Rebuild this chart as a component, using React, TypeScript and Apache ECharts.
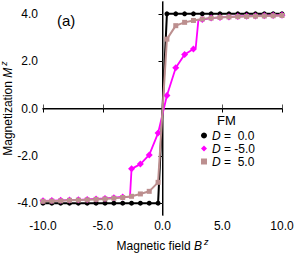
import React, { useEffect, useRef } from "react";
import * as echarts from "echarts";

// Magnetic field sweep (28 points, -10 .. 10)
const fieldB = [
  -10.0, -9.26, -8.52, -7.78, -7.04, -6.3, -5.56, -4.81, -4.07, -3.33, -2.59, -1.85, -1.11, -0.37,
  0.37, 1.11, 1.85, 2.59, 3.33, 4.07, 4.81, 5.56, 6.3, 7.04, 7.78, 8.52, 9.26, 10.0,
];
const magD0 = [
  -4.0, -4.0, -4.0, -4.0, -4.0, -4.0, -4.0, -4.0, -4.0, -4.0, -4.0, -4.0, -4.0, -4.0,
  4.0, 4.0, 4.0, 4.0, 4.0, 4.0, 4.0, 4.0, 4.0, 4.0, 4.0, 4.0, 4.0, 4.0,
];
const magDm5 = [
  -3.9, -3.89, -3.88, -3.87, -3.86, -3.84, -3.82, -3.8, -3.77, -3.74, -2.55, -2.35, -1.96, -1.04,
  0.55, 1.72, 2.28, 2.51, 3.76, 3.82, 3.85, 3.87, 3.89, 3.9, 3.91, 3.92, 3.93, 3.94,
];
const magD5 = [
  -3.92, -3.91, -3.9, -3.88, -3.87, -3.86, -3.84, -3.82, -3.79, -3.76, -3.71, -3.61, -3.5, -3.12,
  2.93, 3.5, 3.64, 3.72, 3.78, 3.82, 3.85, 3.87, 3.88, 3.89, 3.9, 3.91, 3.92, 3.93,
];
// unmarked points on the D = -5.0 curve where it jumps
const jumpB = [-2.72, 2.78, 3.0];
const jumpM = [-3.72, 2.56, 3.72];

const seriesNames = ["D0", "Dm5", "D5"];
const legendLabels = [" =  0.0", " = -5.0", " =  5.0"];
const yTicks = [-4, -2, 0, 2, 4];

const FONT = "Liberation Sans, Arial, Helvetica, sans-serif";

export default function App() {
  const ref = useRef<HTMLDivElement>(null);
  useEffect(() => {
    if (!ref.current) return;
    const chart = echarts.init(ref.current, undefined, { renderer: "svg" });

    const d0 = fieldB.map((b, i) => [b, magD0[i]]);
    const d5 = fieldB.map((b, i) => [b, magD5[i]]);
    const dm5: any[] = fieldB.map((b, i) => ({ value: [b, magDm5[i]] }));
    jumpB.forEach((b, i) => dm5.push({ value: [b, jumpM[i]], symbol: "none" }));
    dm5.sort((a, b) => a.value[0] - b.value[0]);

    const nameRich = {
      i: { fontStyle: "italic", fontSize: 12, fontFamily: FONT, color: "#000" },
      s: { fontStyle: "italic", fontSize: 9, fontFamily: FONT, color: "#000", padding: [0, 0, 8, 2] },
    };

    const option: any = {
      animation: false,
      textStyle: { fontFamily: FONT },
      grid: { left: 43, right: 12, top: 2, bottom: 39, containLabel: false, outerBoundsMode: "none" },
      xAxis: [
        {
          type: "value",
          position: "bottom",
          min: -10,
          max: 10,
          interval: 5,
          splitLine: { show: false },
          axisLine: { lineStyle: { color: "#555", width: 1.5 } },
          axisTick: { inside: true, length: 4, lineStyle: { color: "#555" } },
          axisLabel: {
            color: "#000",
            fontSize: 12,
            fontFamily: FONT,
            margin: 5,
            hideOverlap: false,
            formatter: (v: number) => v.toFixed(1),
          },
          name: "Magnetic field {i|B}{s|z}",
          nameLocation: "middle",
          nameGap: 22,
          nameMoveOverlap: false,
          nameTextStyle: { color: "#000", fontSize: 12, fontFamily: FONT, rich: nameRich },
        },
        {
          type: "value",
          position: "top",
          min: -10,
          max: 10,
          interval: 5,
          splitLine: { show: false },
          axisLine: { lineStyle: { color: "#000", width: 1 } },
          axisTick: { inside: true, length: 4, lineStyle: { color: "#000" } },
          axisLabel: { show: false },
        },
      ],
      yAxis: [
        {
          type: "value",
          position: "left",
          min: -4.5,
          max: 4.5,
          splitLine: { show: false },
          axisLine: { lineStyle: { color: "#888", width: 2 } },
          axisTick: { inside: false, length: 3, lineStyle: { color: "#888" }, customValues: yTicks },
          axisLabel: {
            color: "#000",
            fontSize: 12,
            fontFamily: FONT,
            margin: 5,
            customValues: yTicks,
            formatter: (v: number) => v.toFixed(1),
          },
          name: "Magnetization {i|M}{s|z}",
          nameLocation: "middle",
          nameGap: 27,
          nameMoveOverlap: false,
          nameTextStyle: { color: "#000", fontSize: 12, fontFamily: FONT, rich: nameRich },
        },
        {
          type: "value",
          position: "right",
          min: -4.5,
          max: 4.5,
          splitLine: { show: false },
          axisLine: { lineStyle: { color: "#000", width: 1 } },
          axisTick: { inside: true, length: 4, lineStyle: { color: "#000" }, customValues: yTicks },
          axisLabel: { show: false, customValues: yTicks },
        },
      ],
      legend: {
        orient: "vertical",
        left: 201,
        top: 129,
        itemWidth: 6,
        itemHeight: 6,
        itemGap: 0,
        padding: 0,
        selectedMode: false,
        data: [
          { name: seriesNames[0], icon: "circle" },
          { name: seriesNames[1], icon: "diamond" },
          { name: seriesNames[2], icon: "rect" },
        ],
        formatter: (name: string) => "{i|D}" + legendLabels[seriesNames.indexOf(name)],
        textStyle: {
          color: "#000",
          fontSize: 12,
          fontFamily: FONT,
          lineHeight: 13,
          rich: {
            i: { fontStyle: "italic", fontSize: 12, fontFamily: FONT, color: "#000", lineHeight: 13 },
          },
        },
      },
      graphic: [
        {
          type: "text",
          left: 57,
          top: 13,
          style: { text: "(a)", fontSize: 15, fontFamily: FONT, fill: "#000" },
        },
        {
          type: "text",
          left: 217,
          top: 114,
          style: { text: "FM", fontSize: 13, fontFamily: FONT, fill: "#000" },
        },
      ],
      series: [
        {
          name: seriesNames[0],
          type: "line",
          data: d0,
          symbol: "circle",
          symbolSize: 5,
          itemStyle: { color: "#000" },
          lineStyle: { color: "#000", width: 2 },
          z: 2,
        },
        {
          name: seriesNames[1],
          type: "line",
          data: dm5,
          symbol: "diamond",
          symbolSize: 7,
          itemStyle: { color: "#ff00ff" },
          lineStyle: { color: "#ff00ff", width: 1.8 },
          z: 3,
        },
        {
          name: seriesNames[2],
          type: "line",
          data: d5,
          symbol: "rect",
          symbolSize: 5,
          itemStyle: { color: "#bc8f8f" },
          lineStyle: { color: "#bc8f8f", width: 2 },
          z: 4,
        },
      ],
    };
    chart.setOption(option);
    return () => chart.dispose();
  }, []);
  return (
    <div
      ref={ref}
      style={{ position: "fixed", left: 0, top: 0, width: 294, height: 254, background: "#fff" }}
    />
  );
}
